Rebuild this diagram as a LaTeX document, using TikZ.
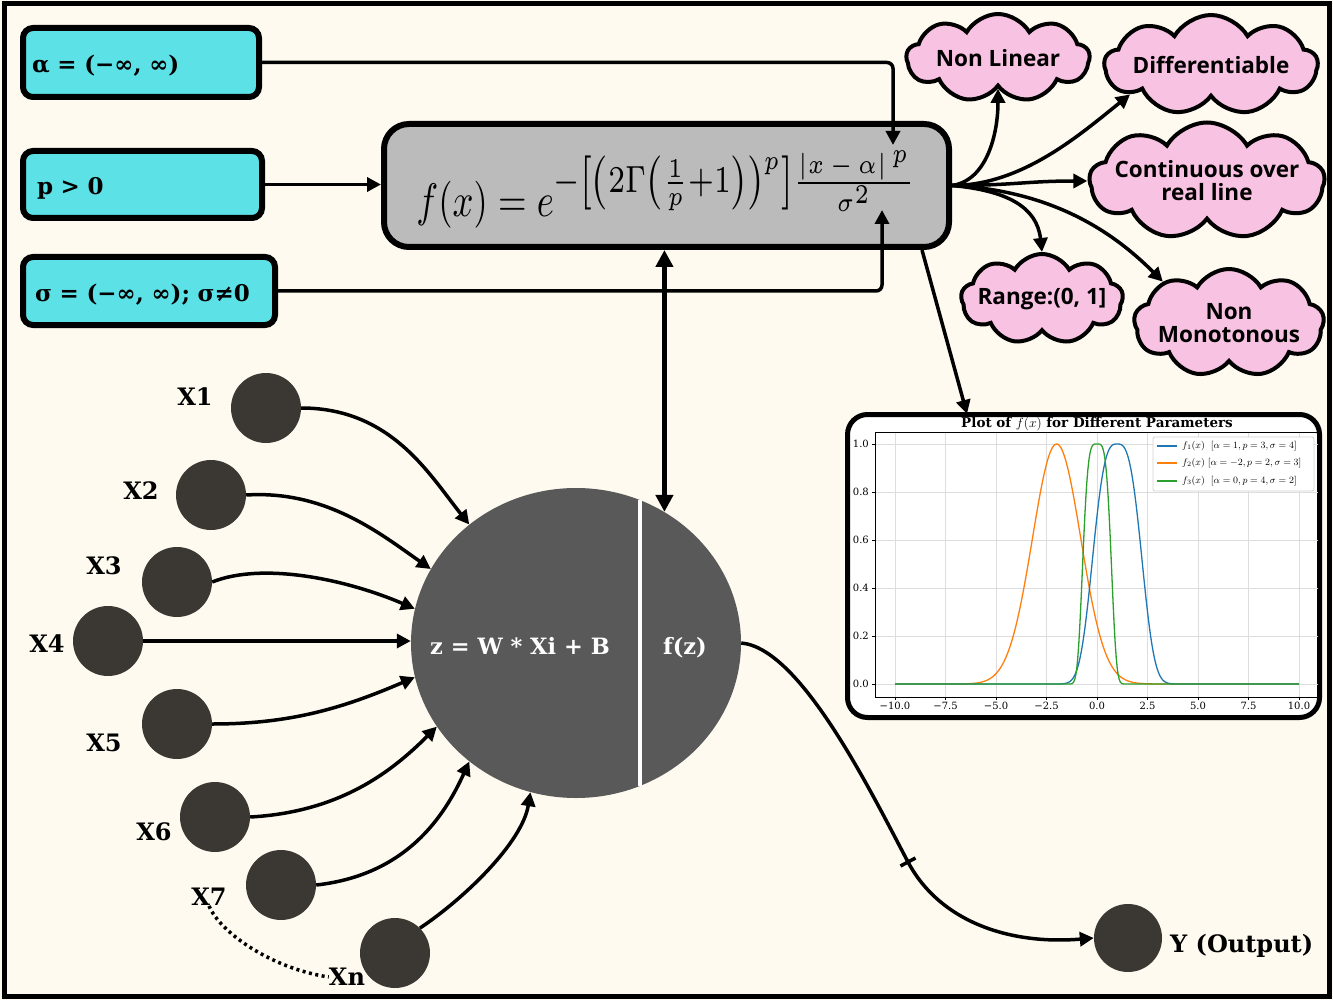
\RequirePackage{fix-cm}
\documentclass[tikz,border=0pt]{standalone}
\usepackage{fontspec}
\usepackage{graphicx}
\setmainfont{DejaVu Serif}
\newfontfamily\osans{Open Sans}
\usetikzlibrary{arrows.meta,shapes.geometric,shapes.symbols}
\definecolor{cream}{HTML}{FEFAF0}
\definecolor{cyanbox}{HTML}{5CE1E6}
\definecolor{graybox}{HTML}{BBBBBB}
\definecolor{corecol}{HTML}{595959}
\definecolor{incol}{HTML}{3B3733}
\definecolor{pinkc}{HTML}{F8C2E2}
\definecolor{mplblue}{HTML}{1F77B4}
\definecolor{mplorange}{HTML}{FF7F0E}
\definecolor{mplgreen}{HTML}{2CA02C}
\definecolor{gridc}{HTML}{DDDDDD}
\begin{document}
\begin{tikzpicture}[x=1pt,y=-1pt,
  parambox/.style={draw,line width=6,rounded corners=10,fill=cyanbox,
    font=\bfseries\fontsize{23}{26}\selectfont,align=left,
    text height=21pt,text depth=0pt},
  conn/.style={line width=3.5,-{Triangle[length=14pt,width=14pt]}},
  dblconn/.style={line width=5,{Triangle[length=17pt,width=17pt]}-{Triangle[length=17pt,width=17pt]}},
  incirc/.style={circle,fill=incol,minimum size=70,inner sep=0},
  xlab/.style={font=\bfseries\fontsize{24}{28}\selectfont,inner sep=0},
  coretext/.style={font=\bfseries\fontsize{22.5}{26}\selectfont,text=white,inner sep=0},
  cloudn/.style={cloud,cloud puffs=9,cloud puff arc=120,cloud ignores aspect,
    draw,line width=4,fill=pinkc,align=center,inner sep=0,
    font=\osans\bfseries\fontsize{22.5}{23}\selectfont},
  ticklab/.style={font=\fontsize{10}{12}\selectfont,inner sep=0},
  legtext/.style={font=\fontsize{9.6}{11}\selectfont,inner sep=0,anchor=west}]
\useasboundingbox (0,0) rectangle (1333,1000);
\fill[cream] (0,0) rectangle (1333,1000);
\draw[line width=5] (4,4) rectangle (1329,996);

% parameter boxes
\node[parambox,minimum width=236,minimum height=69,inner xsep=9,text width=218] (abox) at (141,62.5) {α = (−∞, ∞)};
\node[parambox,minimum width=239,minimum height=67,inner xsep=14,text width=211] (pbox) at (142.5,184.5) {p > 0};
\node[parambox,minimum width=252,minimum height=68,inner xsep=12,text width=228] (sbox) at (149,291) {σ = (−∞, ∞); σ≠0};

% formula box
\node[draw,line width=6,rounded corners=25,fill=graybox,minimum width=565,minimum height=123,inner sep=0] (fx) at (666.5,185.5)
  {\raisebox{-4pt}[\height][\depth]{\resizebox*{500pt}{78pt}{$f(x) = e^{\scalebox{1.15}{$\scriptstyle -\left[\left(2\Gamma\left(\frac{1}{p}+1\right)\right)^{p}\right]\frac{|x\,-\,\alpha|^{\,p}}{\sigma^{2}}$}}$}}};

\coordinate (aIn) at (893,145);
\coordinate (sIn) at (882,210);
\draw[conn,rounded corners=6] (abox.east) -| (aIn);
\draw[conn] (pbox.east) -- (pbox.east -| fx.west);
\draw[conn,rounded corners=6] (sbox.east) -| (sIn);

% core neuron
\node[ellipse,fill=corecol,minimum width=330,minimum height=310,inner sep=0] (core) at (576,643) {};
\draw[white,line width=4] (640,500) -- (640,786);
\node[coretext,anchor=base] (zt) at (520,654) {z = W * Xi + B};
\node[coretext,anchor=base] (fzt) at (685,654) {f(z)};

\draw[dblconn] (fx.south -| core.56) -- (core.56);

% inputs
\node[incirc] (x1) at (266,408) {};
\node[incirc] (x2) at (211,495) {};
\node[incirc] (x3) at (177,582) {};
\node[incirc] (x4) at (108,641) {};
\node[incirc] (x5) at (177,724) {};
\node[incirc] (x6) at (215,817) {};
\node[incirc] (x7) at (281,885) {};
\node[incirc] (xn) at (395,953) {};
\node[xlab] (l1) at (195,397) {X1};
\node[xlab] (l2) at (141,491) {X2};
\node[xlab] (l3) at (104,566) {X3};
\node[xlab] (l4) at (47,644) {X4};
\node[xlab] (l5) at (104,743) {X5};
\node[xlab] (l6) at (154,832) {X6};
\node[xlab] (l7) at (209,897) {X7};
\node[xlab] (ln) at (347,977) {Xn};
\draw[line width=3.5,dash pattern=on 3pt off 3.5pt] (l7.south) .. controls +(12,28) and +(-55,-8) .. (ln.west);

\draw[conn] (x1.east) .. controls +(90,0) and +(-40,-50) .. (core.132);
\draw[conn] (x2.east) .. controls +(80,-5) and +(-50,-35) .. (core.153);
\draw[conn] (x3.east) .. controls +(50,-20) and +(-70,-30) .. (core.168);
\draw[conn] (x4.east) -- (x4.east -| core.west);
\draw[conn] (x5.east) .. controls +(80,0) and +(-70,30) .. (core.192);
\draw[conn] (x6.east) .. controls +(90,-5) and +(-45,45) .. (core.211);
\draw[conn] (x7.east) .. controls +(90,-10) and +(-25,55) .. (core.228);
\draw[conn] (xn.45) .. controls +(45,-30) and +(-8,50) .. (core.253);

% output
\node[incirc,minimum size=68] (yout) at (1128,938) {};
\node[xlab,anchor=base west] (ylab) at (1170,952) {Y (Output)};
\coordinate (tick) at (908,862);
\draw[conn] (core.east) .. controls +(59,5) and +(-38,-72) .. (tick) .. controls +(32,60) and +(-84,7) .. (yout.west);
\draw[line width=3.5] (tick) +(-7.5,4) -- +(7.5,-4);

% clouds
\node[cloudn,minimum width=183,minimum height=88] (nl) at (998,58) {Non Linear};
\node[cloudn,minimum width=208,minimum height=100] (dif) at (1211,65) {Differentiable};
\node[cloudn,minimum width=235,minimum height=117,inner xsep=-22pt,inner ysep=-4pt] (cont) at (1207,181) {Continuous over\\real line};
\node[cloudn,minimum width=162,minimum height=90,inner xsep=-14pt] (rng) at (1042,299) {Range:(0, 1]};
\node[cloudn,minimum width=190,minimum height=108,inner xsep=-18pt,inner ysep=-4pt] (nm) at (1229,323) {Non\\Monotonous};

\draw[conn] (fx.east) .. controls +(35,-5) and +(0,45) .. (nl.south);
\draw[conn] (fx.east) .. controls +(70,0) and +(-50,40) .. (dif.200);
\draw[conn] (fx.east) .. controls +(60,0) and +(-60,0) .. (cont.west);
\draw[conn] (fx.east) .. controls +(55,5) and +(-5,-45) .. (rng.north);
\draw[conn] (fx.east) .. controls +(100,5) and +(-50,-50) .. (nm.148);

% plot panel
\node[draw,line width=5,rounded corners=20,fill=white,minimum width=472,minimum height=303,inner sep=0] (panel) at (1083.5,566) {};
\draw[conn] ([xshift=-30pt]fx.south east) -- ([xshift=-355pt,yshift=-2pt]panel.north east);
\node[font=\bfseries\fontsize{13.5}{15}\selectfont,inner sep=0] (ptitle) at (1097,424) {Plot of $f(x)$ for Different Parameters};

\begin{scope}[shift={(1097,684)},x=20.2pt,y=240pt]
  \foreach \gx in {-10,-7.5,...,10} \draw[gridc,line width=0.8] (\gx,-0.054) -- (\gx,1.05);
  \foreach \gy in {0,0.2,0.4,0.6,0.8,1.0} \draw[gridc,line width=0.8] (-10.99,\gy) -- (10.94,\gy);
  \draw[mplorange,line width=1.3] plot[domain=-10:10,samples=301] (\x,{exp(-min(0.349066*min(abs(\x+2),6)^2,9))});
  \draw[mplblue,line width=1.3] plot[domain=-10:10,samples=301] (\x,{exp(-min(0.356035*min(abs(\x-1),6)^3,9))});
  \draw[mplgreen,line width=1.3] plot[domain=-10:10,samples=401] (\x,{exp(-min(2.69988*min(abs(\x),6)^4,9))});
  \draw[line width=0.8] (-10.99,-0.054) rectangle (10.94,1.05);
  \foreach \gx/\lab in {-10/−10.0,-7.5/−7.5,-5/−5.0,-2.5/−2.5,0/0.0,2.5/2.5,5/5.0,7.5/7.5,10/10.0}
    {\draw[line width=0.8] (\gx,-0.054) -- ++(0,-3.5pt);
     \node[ticklab,anchor=north] at ([yshift=-5pt]\gx,-0.054) {\lab};}
  \foreach \gy/\lab in {0/0.0,0.2/0.2,0.4/0.4,0.6/0.6,0.8/0.8,1.0/1.0}
    {\draw[line width=0.8] (-10.99,\gy) -- ++(-3.5pt,0);
     \node[ticklab,anchor=east] at ([xshift=-6pt]-10.99,\gy) {\lab};}
\end{scope}

\node[draw=gray!35,line width=0.8,rounded corners=2,fill=white,minimum width=161,minimum height=54,inner sep=0] (leg) at (1233.5,464) {};
\draw[mplblue,line width=1.3] (1157,446) -- (1177,446);
\draw[mplorange,line width=1.3] (1157,463) -- (1177,463);
\draw[mplgreen,line width=1.3] (1157,481) -- (1177,481);
\node[legtext] (lg1) at (1182,446) {$f_1(x)$\ \ $[\alpha = 1, p = 3, \sigma = 4]$};
\node[legtext] (lg2) at (1182,463) {$f_2(x)$ $[\alpha = -2, p = 2, \sigma = 3]$};
\node[legtext] (lg3) at (1182,481) {$f_3(x)$\ \ $[\alpha = 0, p = 4, \sigma = 2]$};
\end{tikzpicture}
\end{document}
